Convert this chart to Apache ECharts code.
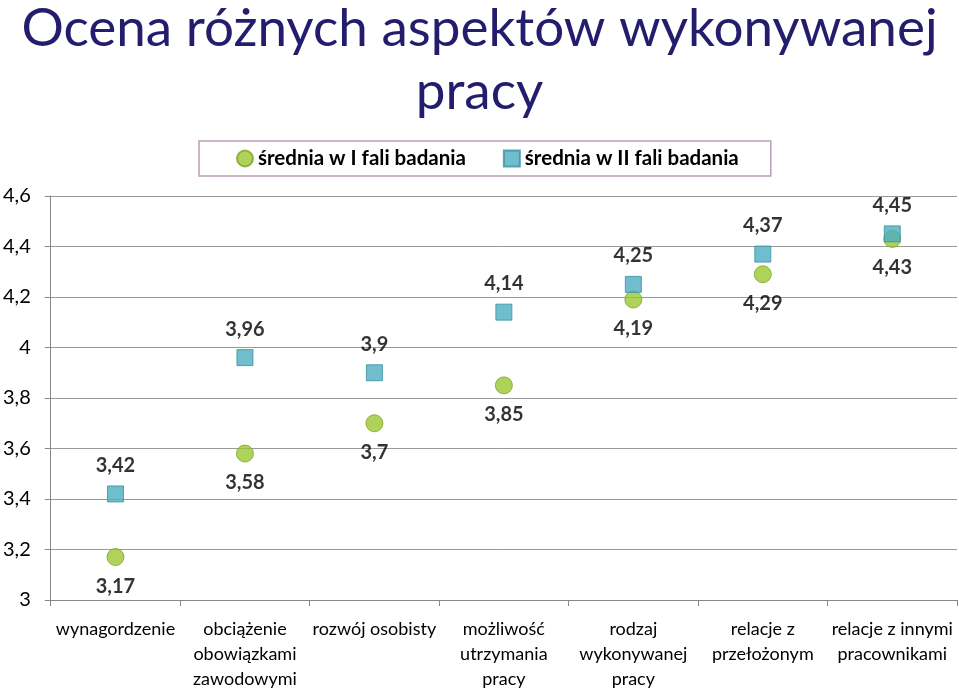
<!DOCTYPE html>
<html><head><meta charset="utf-8">
<script src="https://cdn.jsdelivr.net/npm/echarts@6/dist/echarts.min.js"></script>
<style>html,body{margin:0;padding:0;background:#fff}#c{width:959px;height:692px}</style>
</head><body><div id="c"></div>
<script>
var categories = ['wynagordzenie','obciążenie\nobowiązkami\nzawodowymi','rozwój osobisty','możliwość\nutrzymania\npracy','rodzaj\nwykonywanej\npracy','relacje z\nprzełożonym','relacje z innymi\npracownikami'];
var wave1 = [3.17, 3.58, 3.7, 3.85, 4.19, 4.29, 4.43];
var wave2 = [3.42, 3.96, 3.9, 4.14, 4.25, 4.37, 4.45];
var seriesNames = ['średnia w I fali badania', 'średnia w II fali badania'];
var titleText = 'Ocena różnych aspektów wykonywanej\npracy';

var FONT = 'Lato';
function comma(v){ return String(v).replace('.', ','); }
var chart = echarts.init(document.getElementById('c'));
chart.setOption({
  animation: false,
  title: {
    text: titleText, left: 'center', top: -8,
    textStyle: { fontFamily: FONT, fontWeight: 'normal', fontSize: 53, color: '#241c6c', lineHeight: 63 }
  },
  legend: {
    top: 141, left: 199,
    itemGap: 37, itemWidth: 16, itemHeight: 16,
    padding: [7, 32, 7, 37],
    borderColor: '#b89fb8', borderWidth: 1.5,
    textStyle: { fontFamily: FONT, fontWeight: 'bold', fontSize: 20.5, color: '#000' },
    data: [{ name: seriesNames[0], icon: 'circle' }, { name: seriesNames[1], icon: 'rect' }]
  },
  grid: { left: 49, right: 2, top: 196, bottom: 86 },
  xAxis: {
    type: 'category', data: categories, boundaryGap: true,
    axisLine: { lineStyle: { color: '#888' } },
    axisTick: { show: true, length: 6, lineStyle: { color: '#888' } },
    axisLabel: { fontFamily: FONT, fontSize: 18, color: '#000', lineHeight: 25, margin: 17, interval: 0 }
  },
  yAxis: {
    type: 'value', min: 3, max: 4.6, interval: 0.2,
    axisLine: { show: true, lineStyle: { color: '#888' } },
    axisTick: { show: true, length: 6, inside: false, lineStyle: { color: '#888' } },
    splitLine: { lineStyle: { color: '#999' } },
    axisLabel: {
      fontFamily: FONT, fontSize: 20, color: '#000', margin: 20,
      formatter: function (v) { return comma(Math.round(v * 10) / 10); }
    }
  },
  series: [
    {
      name: seriesNames[0], type: 'scatter', data: wave1,
      symbol: 'circle', symbolSize: 17,
      itemStyle: { color: '#9bc831', borderColor: '#7ea424', borderWidth: 1 },
      label: { show: true, position: 'bottom', distance: 10, fontFamily: FONT, fontWeight: 'bold', fontSize: 20, color: '#000',
        formatter: function (p) { return comma(p.value); } }
    },
    {
      name: seriesNames[1], type: 'scatter', data: wave2,
      symbol: 'rect', symbolSize: 16,
      itemStyle: { color: '#4bacc0', borderColor: '#3a90a3', borderWidth: 1 },
      label: { show: true, position: 'top', distance: 10, fontFamily: FONT, fontWeight: 'bold', fontSize: 20, color: '#000',
        formatter: function (p) { return comma(p.value); } }
    }
  ]
});
</script></body></html>
